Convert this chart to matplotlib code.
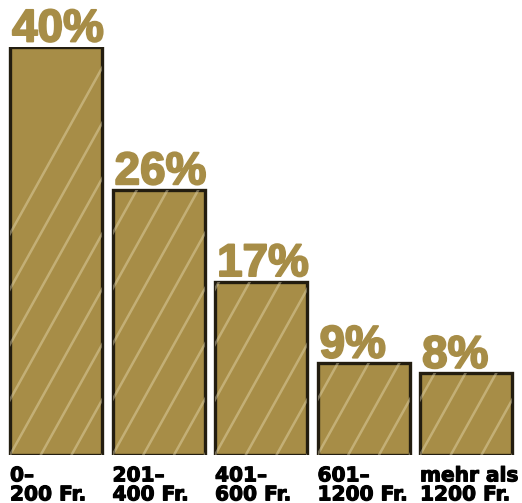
import matplotlib
matplotlib.use("Agg")
from matplotlib import pyplot as plt
from matplotlib import patheffects as pe
import numpy as np

categories = ["0–\n200 Fr.", "201–\n400 Fr.", "401–\n600 Fr.", "601–\n1200 Fr.", "mehr als\n1200 Fr."]
shares = [40, 26, 17, 9, 8]
share_labels = ["40%", "26%", "17%", "9%", "8%"]

gold = "#a78d47"
dark = "#231d10"
width = 0.9

fig = plt.figure(figsize=(5.22, 5.03), dpi=100)
ax = fig.add_axes([0.0, 48 / 503, 1.0, 408 / 503])
ax.set_xlim(-0.5476, -0.5476 + 522 / 102.5)
ax.set_ylim(0, 40)
ax.axis("off")

x = np.arange(len(shares))
bars = ax.bar(x, shares, width=width, color=gold, edgecolor=dark, linewidth=2.4, zorder=2)

# chalky diagonal stripes, clipped to each bar
slope = 1.8 * 102.5 / 10.2
for b in bars:
    x0 = b.get_x()
    for s in np.arange(-1.2, 1.2, 0.3):
        xs = np.array([x0 + s, x0 + s + 45 / slope])
        ys = (xs - x0 - s) * slope
        ln, = ax.plot(xs, ys, color="#efe4bd", alpha=0.4, lw=1.8, zorder=3,
                      solid_capstyle="round")
        ln.set_clip_path(b)

for b, lab in zip(bars, share_labels):
    ax.annotate(lab, (b.get_x(), b.get_height()), xytext=(1.5, 4), textcoords="offset points",
                ha="left", va="baseline", fontsize=33, fontweight="bold", color=gold,
                family="Liberation Sans", clip_on=False,
                path_effects=[pe.withStroke(linewidth=1.4, foreground=gold)])

# two-line category labels, each line placed on its own baseline
for b, cat in zip(bars, categories):
    for i, line in enumerate(cat.split("\n")):
        ax.annotate(line, (b.get_x(), 0), xytext=(0, -19 - 13.7 * i), textcoords="offset points",
                    ha="left", va="baseline", fontsize=14.5, fontweight="bold", color="black",
                    family="DejaVu Sans", clip_on=False,
                    path_effects=[pe.withStroke(linewidth=0.8, foreground="black")])

fig.savefig("out.png", dpi=100)
